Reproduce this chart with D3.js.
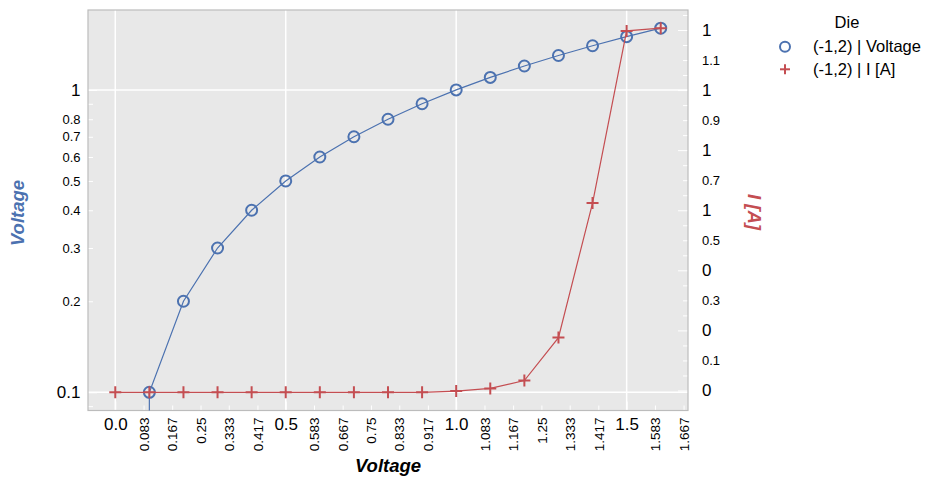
<!DOCTYPE html>
<html>
<head>
<meta charset="utf-8">
<script src="https://cdn.jsdelivr.net/npm/d3@7"></script>
<style>
  body { margin: 0; background: #fff; }
  svg { display: block; font-family: "Liberation Sans", Arial, sans-serif; }
  .tick line { stroke: #fff; }
</style>
</head>
<body>
<svg width="941" height="487"></svg>
<script>
// data
let xValues  = [0.0, 0.1, 0.2, 0.3, 0.4, 0.5, 0.6, 0.7, 0.8, 0.9, 1.0, 1.1, 1.2, 1.3, 1.4, 1.5, 1.6];
let voltage  = [0.0, 0.1, 0.2, 0.3, 0.4, 0.5, 0.6, 0.7, 0.8, 0.9, 1.0, 1.1, 1.2, 1.3, 1.4, 1.5, 1.6];
let current  = [-0.006, -0.006, -0.006, -0.006, -0.006, -0.006, -0.006, -0.006, -0.006, -0.006,
                -0.002, 0.007, 0.033, 0.176, 0.624, 1.197, 1.206];

// ticks
let xMajorTicks  = [0.0, 0.5, 1.0, 1.5];
let xMinorLabels = ["0.083", "0.167", "0.25", "0.333", "0.417", "0.583", "0.667", "0.75", "0.833",
                    "0.917", "1.083", "1.167", "1.25", "1.333", "1.417", "1.583", "1.667"];
let yLeftMajor   = [0.1, 1];
let yLeftMinor   = [0.09, 0.2, 0.3, 0.4, 0.5, 0.6, 0.7, 0.8, 0.9];
let yLeftMinorLabels = ["", "0.2", "0.3", "0.4", "0.5", "0.6", "0.7", "0.8", ""];
let yRightMajor  = [0.0, 0.2, 0.4, 0.6, 0.8, 1.0, 1.2];
let yRightMinor  = [0.1, 0.3, 0.5, 0.7, 0.9, 1.1];
let yRightMarks  = [0.05, 0.15, 0.25, 0.35, 0.45, 0.55, 0.65, 0.75, 0.85, 0.95, 1.05, 1.15, 1.25];

let legendTitle = "Die";
let seriesNames = ["(-1,2) | Voltage", "(-1,2) | I [A]"];

let blue = "#4c72b0", red = "#c44e52";

let svg = d3.select("svg");
let pLeft = 88, pRight = 688, pTop = 10, pBottom = 410.5;

function pad(ext, f) { let s = ext[1] - ext[0]; return [ext[0] - s * f, ext[1] + s * f]; }

let x = d3.scaleLinear().domain(pad(d3.extent(xValues), 0.05)).range([pLeft, pRight]);
let logExt = d3.extent(voltage.filter(function (v) { return v > 0; })).map(Math.log10);
let yL = d3.scaleLog().domain(pad(logExt, 0.05).map(function (v) { return Math.pow(10, v); })).range([pBottom, pTop]);
let yR = d3.scaleLinear().domain(pad(d3.extent(current), 0.05)).range([pBottom, pTop]);

svg.append("rect")
    .attr("x", pLeft).attr("y", pTop)
    .attr("width", pRight - pLeft).attr("height", pBottom - pTop)
    .attr("fill", "#e8e8e8");

svg.append("clipPath").attr("id", "clip")
    .append("rect").attr("x", pLeft).attr("y", pTop)
    .attr("width", pRight - pLeft).attr("height", pBottom - pTop);

// grid
let grid = svg.append("g").attr("stroke", "#fff").attr("stroke-width", 1.5);
grid.selectAll(".gx").data(xMajorTicks).enter().append("line")
    .attr("x1", function (d) { return x(d); }).attr("x2", function (d) { return x(d); })
    .attr("y1", pTop).attr("y2", pBottom);
grid.selectAll(".gy").data(yLeftMajor).enter().append("line")
    .attr("x1", pLeft).attr("x2", pRight)
    .attr("y1", function (d) { return yL(d); }).attr("y2", function (d) { return yL(d); });

// bottom axis
let gxMaj = svg.append("g").attr("transform", "translate(0," + pBottom + ")")
    .call(d3.axisBottom(x).tickValues(xMajorTicks).tickFormat(d3.format(".1f")).tickSize(-9).tickPadding(7));
gxMaj.selectAll("text").attr("font-size", "17px").attr("fill", "#000");

let gxMin = svg.append("g").attr("transform", "translate(0," + pBottom + ")")
    .call(d3.axisBottom(x).tickValues(xMinorLabels.map(Number)).tickFormat(function (d, i) { return xMinorLabels[i]; }).tickSize(-5));
gxMin.selectAll("text")
    .attr("font-size", "13.5px").attr("fill", "#000")
    .attr("transform", "rotate(-90)")
    .attr("x", -7).attr("y", 0).attr("dy", "0.35em")
    .attr("text-anchor", "end");

// left axis
let gyMaj = svg.append("g").attr("transform", "translate(" + pLeft + ",0)")
    .call(d3.axisLeft(yL).tickValues(yLeftMajor).tickFormat(d3.format("")).tickSize(-9).tickPadding(7.5));
gyMaj.selectAll("text").attr("font-size", "17px").attr("fill", "#000");

let gyMin = svg.append("g").attr("transform", "translate(" + pLeft + ",0)")
    .call(d3.axisLeft(yL).tickValues(yLeftMinor).tickFormat(function (d, i) { return yLeftMinorLabels[i]; }).tickSize(-5).tickPadding(7.5));
gyMin.selectAll("text").attr("font-size", "13px").attr("fill", "#000");

// right axis
let gr1 = svg.append("g").attr("transform", "translate(" + pRight + ",0)")
    .call(d3.axisRight(yR).tickValues(yRightMajor).tickFormat(d3.format(".0f")).tickSize(-10).tickPadding(14));
gr1.selectAll("text").attr("font-size", "17px").attr("fill", "#000");

let gr2 = svg.append("g").attr("transform", "translate(" + pRight + ",0)")
    .call(d3.axisRight(yR).tickValues(yRightMinor).tickFormat(d3.format(".1f")).tickSize(-5).tickPadding(14));
gr2.selectAll("text").attr("font-size", "13px").attr("fill", "#000");

svg.append("g").attr("transform", "translate(" + pRight + ",0)")
    .call(d3.axisRight(yR).tickValues(yRightMarks).tickFormat("").tickSize(-5));

svg.selectAll(".domain").remove();

// frame
svg.append("rect")
    .attr("x", pLeft).attr("y", pTop)
    .attr("width", pRight - pLeft).attr("height", pBottom - pTop)
    .attr("fill", "none").attr("stroke", "#bcbcbc").attr("stroke-width", 1.2);

// series
let plot = svg.append("g").attr("clip-path", "url(#clip)");

let blueLine = d3.line()
    .x(function (d, i) { return x(xValues[i]); })
    .y(function (d) { return yL(d > 0 ? d : 1e-300); });
plot.append("path").datum(voltage)
    .attr("d", blueLine).attr("fill", "none").attr("stroke", blue).attr("stroke-width", 1.2);

let vPoints = voltage.map(function (v, i) { return [xValues[i], v]; }).filter(function (p) { return p[1] > 0; });
plot.selectAll(".vdot").data(vPoints).enter().append("circle")
    .attr("cx", function (d) { return x(d[0]); })
    .attr("cy", function (d) { return yL(d[1]); })
    .attr("r", 5.5).attr("fill", "none").attr("stroke", blue).attr("stroke-width", 2);

let redLine = d3.line()
    .x(function (d, i) { return x(xValues[i]); })
    .y(function (d) { return yR(d); });
plot.append("path").datum(current)
    .attr("d", redLine).attr("fill", "none").attr("stroke", red).attr("stroke-width", 1.2);

function plus(sel, s) {
    sel.append("line").attr("x1", -s).attr("x2", s).attr("y1", 0).attr("y2", 0);
    sel.append("line").attr("x1", 0).attr("x2", 0).attr("y1", -s).attr("y2", s);
}
plot.selectAll(".idot").data(current).enter().append("g")
    .attr("transform", function (d, i) { return "translate(" + x(xValues[i]) + "," + yR(d) + ")"; })
    .attr("stroke", red).attr("stroke-width", 2)
    .each(function () { plus(d3.select(this), 6); });

// axis labels
svg.append("text")
    .attr("x", 388).attr("y", 472)
    .attr("text-anchor", "middle")
    .attr("font-size", "18.5px").attr("font-weight", "bold").attr("font-style", "italic")
    .text("Voltage");

svg.append("text")
    .attr("transform", "translate(24,213) rotate(-90)")
    .attr("text-anchor", "middle")
    .attr("font-size", "18.5px").attr("font-weight", "bold").attr("font-style", "italic")
    .attr("fill", blue)
    .text("Voltage");

svg.append("text")
    .attr("transform", "translate(748,212) rotate(90)")
    .attr("text-anchor", "middle")
    .attr("font-size", "18.5px").attr("font-weight", "bold").attr("font-style", "italic")
    .attr("fill", red)
    .text("I [A]");

// legend
let legend = svg.append("g").attr("font-size", "16.5px");
legend.append("text").attr("x", 847).attr("y", 27.5).attr("text-anchor", "middle").text(legendTitle);

let lg = legend.selectAll(".entry").data(seriesNames).enter().append("g")
    .attr("transform", function (d, i) { return "translate(785," + (46.7 + i * 22.6) + ")"; });
lg.append("text").attr("x", 28).attr("dy", "0.35em").text(function (d) { return d; });
lg.filter(function (d, i) { return i === 0; }).append("circle")
    .attr("r", 5).attr("fill", "none").attr("stroke", blue).attr("stroke-width", 2);
lg.filter(function (d, i) { return i === 1; }).append("g")
    .attr("stroke", red).attr("stroke-width", 2)
    .each(function () { plus(d3.select(this), 5); });
</script>
</body>
</html>
